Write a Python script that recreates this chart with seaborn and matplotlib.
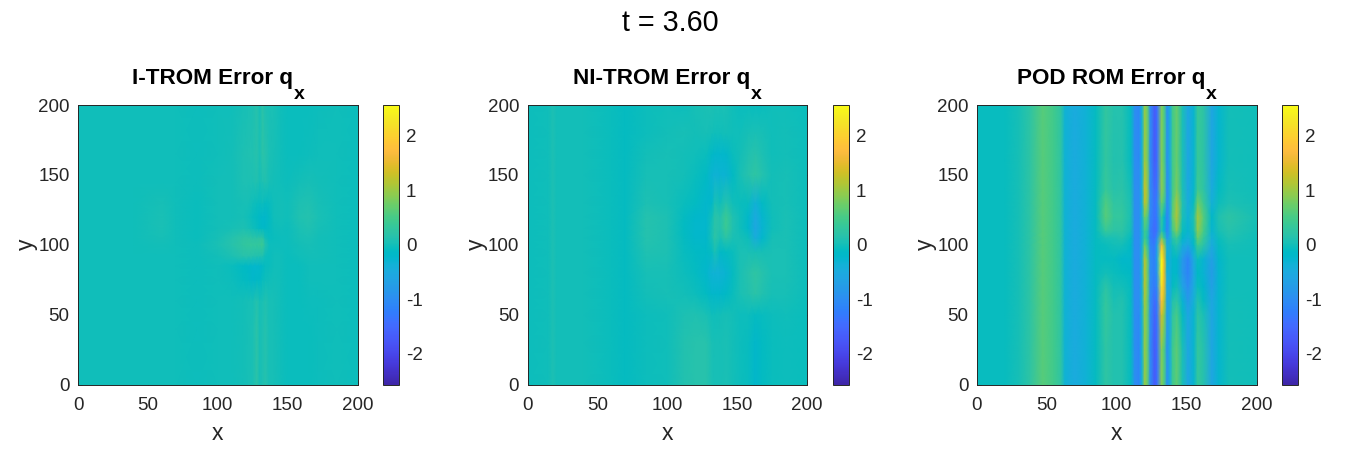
import numpy as np
import matplotlib
matplotlib.use("Agg")
import matplotlib.pyplot as plt
from matplotlib.colors import LinearSegmentedColormap
import seaborn as sns

sns.set_theme(style="white")
plt.rcParams["font.family"] = ["Liberation Sans", "DejaVu Sans"]

INK = "#262626"
LIMIT = 2.56
TICKS = [0, 50, 100, 150, 200]
CBAR_TICKS = [-2, -1, 0, 1, 2]

PARULA = [
    (0.2422, 0.1504, 0.6603), (0.2504, 0.1650, 0.7076), (0.2578, 0.1818, 0.7511), (0.2647, 0.1978, 0.7952),
    (0.2706, 0.2147, 0.8364), (0.2751, 0.2342, 0.8710), (0.2783, 0.2559, 0.8991), (0.2803, 0.2782, 0.9221),
    (0.2813, 0.3006, 0.9414), (0.2810, 0.3228, 0.9579), (0.2795, 0.3447, 0.9717), (0.2760, 0.3667, 0.9829),
    (0.2699, 0.3892, 0.9906), (0.2602, 0.4123, 0.9952), (0.2440, 0.4358, 0.9988), (0.2206, 0.4603, 0.9973),
    (0.1963, 0.4847, 0.9892), (0.1834, 0.5074, 0.9798), (0.1786, 0.5289, 0.9682), (0.1764, 0.5499, 0.9520),
    (0.1687, 0.5703, 0.9359), (0.1540, 0.5902, 0.9218), (0.1460, 0.6091, 0.9079), (0.1380, 0.6276, 0.8973),
    (0.1248, 0.6459, 0.8883), (0.1113, 0.6635, 0.8763), (0.0952, 0.6798, 0.8598), (0.0689, 0.6948, 0.8394),
    (0.0297, 0.7082, 0.8163), (0.0036, 0.7203, 0.7917), (0.0067, 0.7312, 0.7660), (0.0433, 0.7411, 0.7394),
    (0.0964, 0.7500, 0.7120), (0.1408, 0.7584, 0.6842), (0.1717, 0.7670, 0.6554), (0.1938, 0.7758, 0.6251),
    (0.2161, 0.7843, 0.5923), (0.2470, 0.7918, 0.5567), (0.2906, 0.7973, 0.5188), (0.3406, 0.8008, 0.4789),
    (0.3909, 0.8029, 0.4354), (0.4456, 0.8024, 0.3909), (0.5044, 0.7993, 0.3480), (0.5616, 0.7942, 0.3045),
    (0.6174, 0.7876, 0.2612), (0.6720, 0.7793, 0.2227), (0.7242, 0.7698, 0.1910), (0.7738, 0.7598, 0.1646),
    (0.8203, 0.7498, 0.1535), (0.8634, 0.7406, 0.1596), (0.9035, 0.7330, 0.1774), (0.9393, 0.7288, 0.2100),
    (0.9728, 0.7298, 0.2394), (0.9956, 0.7434, 0.2371), (0.9970, 0.7659, 0.2199), (0.9952, 0.7893, 0.2028),
    (0.9892, 0.8136, 0.1885), (0.9786, 0.8386, 0.1766), (0.9676, 0.8639, 0.1643), (0.9610, 0.8890, 0.1537),
    (0.9597, 0.9135, 0.1423), (0.9628, 0.9373, 0.1265), (0.9691, 0.9606, 0.1064), (0.9769, 0.9839, 0.0805),
]

# I-TROM error, rows listed from y = 0 upward
itrom_x = [0, 40, 60, 70, 85, 100, 110, 118, 122, 125, 128, 130, 132, 134, 137, 140, 145, 150, 158, 165, 172, 185, 200]
itrom_y = [0, 40, 60, 75, 85, 92, 100, 105, 112, 120, 130, 145, 165, 200]
itrom_q = [
    [-.02, -.02, -.02, -.02, -.04, -.02, -.02, .01, .03, .05, .18, .03, .07, .13, .03, .03, -.02, -.06, -.05, -.05, -.03, -.02, -.04],
    [-.02, -.02, -.02, -.02, -.04, -.02, -.02, .01, .03, .05, .18, .03, .07, .13, .03, .03, -.02, -.06, -.05, -.05, -.03, -.02, -.04],
    [-.02, -.02, -.02, -.02, -.04, -.02, -.02, 0, .02, .03, .12, .02, .05, .1, .03, .03, -.02, -.06, -.05, -.04, -.03, -.02, -.04],
    [-.02, -.02, -.02, -.02, -.04, -.02, -.04, -.1, -.13, -.2, -.15, -.17, -.08, -.03, -.02, 0, -.02, -.06, -.05, -.02, -.02, -.02, -.04],
    [-.02, -.02, -.02, -.02, -.04, -.02, -.06, -.14, -.17, -.24, -.24, -.2, -.16, -.08, -.05, -.02, -.02, -.05, -.05, -.02, -.02, -.02, -.04],
    [-.02, -.02, -.02, -.02, -.04, 0, .06, .15, .15, .12, .1, .08, .08, -.03, -.05, -.02, -.02, -.05, -.02, 0, 0, -.02, -.04],
    [-.02, -.02, 0, -.02, -.04, .05, .15, .27, .3, .3, .3, .33, .38, .12, -.03, -.04, -.04, -.04, 0, .03, 0, -.02, -.04],
    [-.02, -.02, .03, -.02, -.06, .03, .12, .22, .24, .2, .18, .22, .26, 0, -.08, -.05, -.04, -.04, .02, .05, .01, -.02, -.04],
    [-.02, -.02, .05, -.02, -.06, 0, .03, .06, .03, -.02, -.08, -.13, -.16, -.16, -.1, -.04, -.02, -.04, .05, .09, .03, -.02, -.04],
    [-.02, -.02, .05, -.02, -.06, 0, 0, .02, -.01, -.08, -.12, -.17, -.2, -.2, -.12, -.02, 0, -.02, .08, .12, .04, -.02, -.04],
    [-.02, -.02, .03, -.02, -.06, 0, 0, .03, .02, -.01, -.05, -.08, -.04, -.1, -.07, -.02, 0, -.02, .07, .09, .03, -.02, -.04],
    [-.02, -.02, -.02, -.02, -.04, 0, .01, .07, .07, .07, .11, .03, .07, .1, .03, .01, -.02, -.04, .01, .03, 0, -.02, -.04],
    [-.02, -.02, -.02, -.02, -.04, -.02, 0, .07, .09, .09, .14, .05, .18, .14, .05, .03, -.02, -.06, -.05, -.04, -.02, -.02, -.04],
    [-.02, -.02, -.02, -.02, -.04, -.02, -.02, .03, .05, .07, .14, .03, .18, .07, .05, .05, -.02, -.06, -.05, -.05, -.03, -.02, -.04],
]

# NI-TROM error: the columns up to x = 70 do not change with y
nitrom_x = [0, 15, 18, 21, 40, 60, 70, 85, 100, 112, 120, 128, 132, 134, 138, 142, 147, 152, 158, 163, 168, 175, 185, 200]
nitrom_y = [0, 30, 50, 65, 80, 95, 105, 112, 120, 130, 150, 165, 180, 200]
nitrom_left = [-.03, -.01, .07, 0, 0, -.05, -.1]
nitrom_right = [
    [-.03, -.02, .1, .15, .15, .05, .02, .02, .05, 0, -.03, -.08, -.2, -.12, -.05, -.03, -.05],
    [-.03, -.02, .1, .15, .15, .05, .02, .02, .05, 0, -.03, -.08, -.2, -.12, -.05, -.03, -.05],
    [-.03, -.01, .06, .08, .05, -.02, -.02, 0, .02, 0, -.03, -.03, -.1, -.07, -.03, -.01, -.05],
    [0, .02, 0, -.03, -.12, -.2, -.2, -.2, -.16, -.05, .05, .1, .18, .1, .02, .02, -.03],
    [.03, .02, -.04, -.1, -.22, -.35, -.35, -.35, -.3, -.1, .05, .15, .25, .15, .04, .04, -.03],
    [.08, .07, -.08, -.13, -.15, -.1, .05, -.15, -.12, -.05, .05, .05, .02, .02, .05, .04, -.03],
    [.12, .07, -.1, -.2, -.2, .03, .2, .05, .2, .05, .02, -.03, -.45, -.22, .02, .05, -.03],
    [.12, .07, -.12, -.24, -.24, .02, .18, .12, .38, .08, -.02, -.18, -.58, -.3, -.02, .05, -.03],
    [.12, .06, -.09, -.2, -.24, -.02, .18, .12, .38, .08, -.02, -.18, -.52, -.25, -.02, .05, -.03],
    [.07, .02, -.05, -.12, -.24, -.18, .05, -.02, .12, -.02, -.05, -.08, -.38, -.13, 0, .02, -.03],
    [.02, .02, 0, -.05, -.13, -.32, -.36, -.32, -.32, -.13, .02, .14, .25, .12, 0, .02, -.03],
    [0, .02, .01, -.02, -.06, -.16, -.2, -.24, -.2, -.06, 0, .08, .14, .06, -.02, 0, -.03],
    [-.03, 0, .02, .01, .02, .01, -.02, -.02, 0, -.02, -.02, .02, .05, .02, -.02, 0, -.03],
    [-.03, -.01, -.03, .02, .05, .06, .05, .05, .05, -.02, -.05, -.05, -.07, -.05, -.02, -.02, -.05],
]

# POD ROM error: the columns up to x = 85 do not change with y
pod_x = [0, 20, 30, 38, 47, 55, 60, 63, 70, 78, 85, 92, 98, 104, 110, 113, 116, 118, 120, 122, 124, 127, 129,
         132, 134, 136, 138, 140, 143, 147, 151, 155, 158, 162, 168, 173, 180, 200]
pod_y = [0, 25, 50, 60, 70, 80, 90, 100, 105, 110, 120, 130, 140, 160, 200]
pod_left = [-.08, -.08, .03, .22, .6, .45, .25, -.35, -.5, -.35, -.1]
pod_right = [
    [.25, .1, .1, -.1, -1, -1.1, -.4, .95, .7, -1, -1.7, -1.4, .85, .55, -.9, -.5, .4, .65, .05, -.6, -.3, .3, .15, -.6, -.25, 0, -.02],
    [.25, .1, .1, -.1, -1, -1.1, -.4, .95, .7, -1, -1.7, -1.4, .85, .55, -.9, -.5, .4, .65, .05, -.6, -.3, .3, .15, -.6, -.25, 0, -.02],
    [.3, .1, .1, -.1, -1, -1.05, -.4, .95, .7, -1, -1.6, -1.3, 1.35, .9, -.7, -.5, .25, .5, -.1, -.6, -.3, .2, .05, -.6, -.25, 0, -.02],
    [.3, .05, .1, -.1, -1, -1, -.4, 1.05, .7, -1, -1.5, -1.2, 1.8, 1.2, -.6, -.5, .1, .25, -.3, -.8, -.4, .1, -.1, -.6, -.25, 0, -.02],
    [.2, 0, 0, -.1, -1, -1, -.4, 1.15, .75, -1, -1.3, -1, 2.2, 1.5, -.5, -.5, -.1, 0, -.6, -1, -.5, -.05, -.2, -.7, -.25, -.02, -.02],
    [0, -.05, -.1, -.15, -1, -1, -.4, 1.15, .75, -1, -1.2, -.8, 2.5, 1.5, -.4, -.4, -.2, -.2, -.8, -1.15, -.6, -.15, -.3, -.75, -.25, -.02, -.02],
    [-.1, -.1, -.2, -.2, -1, -1, -.4, 1.15, .7, -1, -1.2, -.6, 2.55, 1.5, -.3, -.4, -.2, -.2, -.8, -1.15, -.5, -.05, -.3, -.7, -.2, -.02, -.02],
    [-.05, 0, 0, -.15, -1, -1, -.4, .7, .3, -1.1, -1.3, -.6, 1.6, .9, -.5, -.4, 0, .15, -.4, -.6, -.2, .45, .2, -.5, -.1, .03, -.02],
    [.05, .05, .1, -.1, -1, -1, -.4, .4, .1, -1.2, -1.4, -.9, .8, .3, -.8, -.5, .15, .4, -.2, -.4, -.1, .7, .35, -.4, -.05, .08, -.02],
    [.35, .2, .2, 0, -1, -1, -.4, .4, .2, -1.2, -1.5, -1.3, .15, -.3, -1.1, -.6, .4, .85, -.05, -.3, 0, .9, .5, -.3, .03, .15, 0],
    [.6, .3, .3, .05, -1, -1, -.4, .75, .55, -1.1, -1.4, -1.2, .35, -.2, -1.1, -.6, .65, 1.1, .05, -.35, .05, 1.05, .6, -.2, .08, .22, .03],
    [.55, .25, .25, .05, -1, -1, -.4, 1.2, .9, -1, -1.4, -1.1, .7, .4, -1, -.6, .55, 1.05, .1, -.45, -.1, .75, .4, -.4, -.03, .07, 0],
    [.35, .15, .18, 0, -1, -1, -.4, 1.25, .95, -1, -1.5, -1.3, .9, .65, -1, -.6, .45, .8, .05, -.55, -.25, .4, .25, -.5, -.12, .02, -.02],
    [.28, .1, .12, -.1, -1, -1.05, -.4, 1, .8, -1, -1.7, -1.4, .85, .55, -.9, -.5, .45, .7, .05, -.6, -.3, .35, .22, -.6, -.25, 0, -.02],
    [.28, .12, .12, -.1, -1, -1.1, -.4, .95, .7, -1, -1.7, -1.4, .85, .55, -.9, -.5, .45, .7, .05, -.6, -.3, .35, .22, -.6, -.25, 0, -.02],
]

titles = ["I-TROM Error q", "NI-TROM Error q", "POD ROM Error q"]
heat_left_px = [78, 527.5, 977]
cbar_left_px = [383, 833, 1282]
W, H = 1365, 455


def with_left_block(left, right):
    return np.hstack([np.tile(left, (len(right), 1)), np.array(right, dtype=float)])


panels = [
    (itrom_x, itrom_y, np.array(itrom_q, dtype=float)),
    (nitrom_x, nitrom_y, with_left_block(nitrom_left, nitrom_right)),
    (pod_x, pod_y, with_left_block(pod_left, pod_right)),
]

cmap = LinearSegmentedColormap.from_list("parula", PARULA, N=256)
fig = plt.figure(figsize=(W / 100, H / 100), dpi=100, facecolor="white")


def node_scale(nodes):
    """Axis scale that places matrix rows or columns at their x or y coordinate."""
    idx = np.arange(len(nodes), dtype=float)
    return (lambda v: np.interp(v, idx, nodes), lambda v: np.interp(v, nodes, idx))


for title, hx, cx, (xs, ys, grid) in zip(titles, heat_left_px, cbar_left_px, panels):
    ax = fig.add_axes([hx / W, 1 - 384.5 / H, 279.5 / W, 279.5 / H])
    cax = fig.add_axes([cx / W, 1 - 384.5 / H, 16 / W, 279.5 / H])
    sns.heatmap(grid, ax=ax, cbar_ax=cax, cmap=cmap, vmin=-LIMIT, vmax=LIMIT,
                shading="gouraud", square=False, xticklabels=False, yticklabels=False,
                cbar_kws={"ticks": CBAR_TICKS})

    fx, ix = node_scale(xs)
    fy, iy = node_scale(ys)
    ax.set_xscale("function", functions=(fx, ix))
    ax.set_yscale("function", functions=(fy, iy))
    ax.set_xlim(0, len(xs) - 1)
    ax.set_ylim(0, len(ys) - 1)
    ax.set_xticks(ix(np.array(TICKS, dtype=float)), labels=[str(t) for t in TICKS])
    ax.set_yticks(iy(np.array(TICKS, dtype=float)), labels=[str(t) for t in TICKS])
    ax.minorticks_off()
    ax.tick_params(direction="in", length=3, width=0.6, top=True, right=True, bottom=True, left=True,
                   labelsize=13.5, colors=INK)
    ax.tick_params(axis="x", pad=9)
    ax.tick_params(axis="y", pad=6)
    ax.set_xlabel("x", fontsize=16.5, color=INK, labelpad=6)
    ax.set_ylabel("y", fontsize=16.5, color=INK, labelpad=0)

    # Title text with its large subscript hung off the end of the title
    head = ax.set_title(title, fontsize=16.2, fontweight="bold", color="black", pad=15, x=0.5 - 5.5 / 279.5)
    ax.annotate("x", xy=(1, 0), xycoords=head, xytext=(0.5, -7), textcoords="offset points",
                fontsize=14, fontweight="bold", color="black", ha="left", va="baseline")

    for side in ax.spines.values():
        side.set_visible(True)
        side.set_color(INK)
        side.set_linewidth(0.7)

    cbar = ax.collections[0].colorbar
    cbar.outline.set_visible(True)
    cbar.outline.set_linewidth(0.7)
    cbar.outline.set_edgecolor(INK)
    cax.tick_params(direction="in", length=2.5, width=0.6, right=True, labelsize=13.5, colors=INK, pad=5)
    cax.set_yticklabels([str(t) for t in CBAR_TICKS])

fig.text(670 / W, 1 - 23 / H, "t = 3.60", ha="center", va="center", fontsize=20.7, color="black")
fig.savefig("out.png", dpi=100)
